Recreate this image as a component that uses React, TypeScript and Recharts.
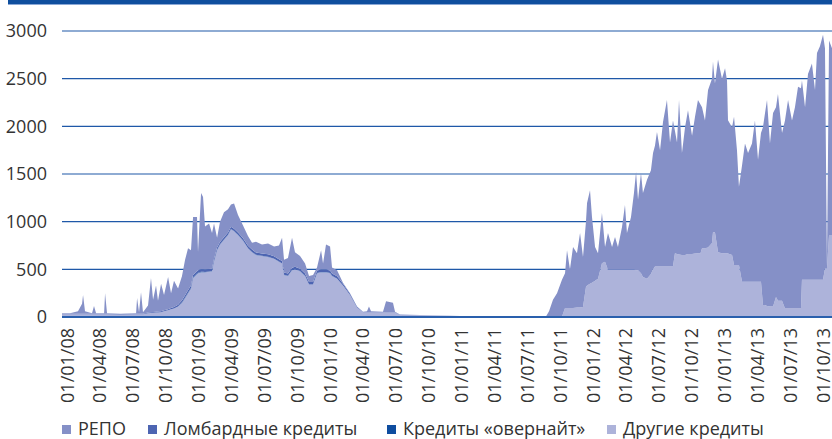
import React from 'react';
import { AreaChart, Area, XAxis, YAxis, CartesianGrid } from 'recharts';

// months since 01/01/08
const months = [
  -0.46, 0.27, 1.0, 1.37, 1.46, 1.64, 2.28, 2.46, 2.65, 3.38,
  3.47, 3.65, 4.84, 6.3, 6.39, 6.57, 6.75, 6.93, 7.39, 7.66,
  7.85, 8.12, 8.3, 8.58, 8.85, 9.22, 9.49, 9.76, 10.13, 10.49,
  10.77, 11.04, 11.31, 11.5, 11.86, 11.95, 12.23, 12.41, 12.59, 12.96,
  13.23, 13.41, 13.69, 13.96, 14.32, 14.69, 14.96, 15.24, 15.6, 16.06,
  16.51, 16.88, 17.24, 17.79, 18.34, 18.89, 19.34, 19.62, 19.8, 20.16,
  20.53, 20.8, 21.26, 21.72, 22.08, 22.45, 22.81, 23.18, 23.36, 23.63,
  24.0, 24.18, 24.64, 25.18, 25.82, 26.46, 27.01, 27.37, 27.55, 27.74,
  28.83, 29.11, 29.74, 29.93, 30.38, 32.21, 34.95, 37.68, 41.33, 43.7,
  43.98, 44.34, 44.71, 45.16, 45.44, 45.62, 45.89, 46.17, 46.53, 46.81,
  47.08, 47.35, 47.45, 47.72, 47.9, 48.18, 48.45, 48.81, 49.09, 49.36,
  49.73, 50.0, 50.27, 50.64, 50.91, 51.09, 51.46, 51.73, 51.92, 52.1,
  52.37, 52.55, 52.92, 53.28, 53.47, 53.65, 53.83, 54.11, 54.38, 54.74,
  55.02, 55.29, 55.47, 55.66, 55.84, 56.11, 56.39, 56.66, 57.03, 57.3,
  57.57, 57.8, 57.94, 58.21, 58.49, 58.85, 58.94, 59.12, 59.4, 59.76,
  60.04, 60.22, 60.31, 60.68, 60.86, 61.13, 61.31, 61.59, 61.86, 62.14,
  62.5, 62.77, 63.05, 63.32, 63.5, 63.69, 63.87, 64.14, 64.42, 64.69,
  64.87, 65.24, 65.51, 65.79, 66.15, 66.42, 66.7, 66.97, 67.06, 67.34,
  67.61, 67.97, 68.25, 68.43, 68.7, 68.98, 69.16, 69.34, 69.53, 69.8,
];

const repo = [
  7, 7, 27, 107, 197, 27, 7, 82, 7, 7,
  217, 7, 4, 7, 167, 17, 227, 17, 72, 360,
  128, 274, 112, 290, 158, 338, 155, 275, 172, 255,
  373, 440, 370, 610, 570, 190, 800, 760, 452, 477,
  372, 372, 102, 212, 263, 243, 233, 263, 183, 133,
  103, 73, 113, 93, 113, 103, 143, 243, 133, 163,
  313, 153, 133, 103, 63, 73, 33, 203, 63, 263,
  253, 63, 63, 10, 5, 2, 2, 7, 57, 7,
  2, 117, 102, 7, 1, 1, 1, 1, 1, 2,
  58, 178, 248, 388, 365, 605, 405, 640, 570, 780,
  525, 685, 865, 980, 690, 355, 270, 525, 155, 385,
  240, 345, 240, 450, 680, 385, 555, 805, 1030, 740,
  1050, 880, 1040, 1090, 1220, 1270, 1410, 1220, 1515, 1745,
  1300, 1530, 1280, 1170, 1620, 1070, 1340, 1510, 1240, 1435,
  1605, 1560, 1480, 1340, 1650, 1725, 1790, 1560, 2020, 1830,
  1940, 1810, 1400, 1340, 1555, 1205, 820, 1220, 1450, 1350,
  1450, 1690, 1280, 1560, 1865, 2015, 2160, 1710, 2030, 1990,
  2170, 1760, 1970, 2185, 1970, 2110, 2325, 2310, 2090, 1810,
  2160, 2270, 1990, 2380, 2450, 2570, 2310, 20, 2040, 1960,
];

const lombard = [
  5, 5, 5, 5, 5, 5, 5, 5, 5, 5,
  5, 5, 5, 5, 5, 5, 5, 5, 8, 8,
  8, 10, 10, 10, 12, 12, 15, 15, 18, 20,
  22, 25, 25, 25, 25, 25, 25, 25, 25, 25,
  25, 25, 25, 25, 25, 25, 25, 25, 25, 25,
  25, 25, 25, 25, 25, 25, 25, 25, 25, 25,
  25, 25, 25, 25, 25, 25, 25, 25, 25, 25,
  25, 25, 25, 20, 15, 8, 3, 3, 3, 3,
  3, 3, 3, 3, 2, 1, 1, 0, 0, 0,
  0, 0, 0, 0, 0, 0, 0, 0, 0, 0,
  0, 0, 0, 0, 0, 0, 0, 0, 0, 0,
  0, 0, 0, 0, 0, 0, 0, 0, 0, 0,
  0, 0, 0, 0, 0, 0, 0, 0, 0, 0,
  0, 0, 0, 0, 0, 0, 0, 0, 0, 0,
  0, 0, 0, 0, 0, 0, 0, 0, 0, 0,
  0, 0, 0, 0, 0, 0, 0, 0, 0, 0,
  0, 0, 0, 0, 0, 0, 0, 0, 0, 0,
  0, 0, 0, 0, 0, 0, 0, 0, 0, 0,
  0, 0, 0, 0, 0, 0, 0, 0, 0, 0,
];

const overnight = [
  0, 0, 0, 0, 0, 0, 0, 0, 0, 0,
  0, 0, 0, 0, 0, 0, 0, 0, 0, 0,
  0, 0, 0, 0, 0, 0, 0, 0, 0, 5,
  5, 5, 5, 5, 5, 5, 5, 5, 3, 3,
  3, 3, 3, 3, 2, 2, 2, 2, 2, 2,
  2, 2, 2, 2, 2, 2, 2, 2, 2, 2,
  2, 2, 2, 2, 2, 2, 2, 2, 2, 2,
  2, 2, 2, 0, 0, 0, 0, 0, 0, 0,
  0, 0, 0, 0, 0, 0, 0, 0, 0, 0,
  0, 0, 0, 0, 0, 0, 0, 0, 0, 0,
  0, 0, 0, 0, 0, 0, 0, 0, 0, 0,
  0, 0, 0, 0, 0, 0, 0, 0, 0, 0,
  0, 0, 0, 0, 0, 0, 0, 0, 0, 0,
  0, 0, 0, 0, 0, 0, 0, 0, 0, 0,
  0, 0, 0, 0, 0, 0, 0, 0, 0, 0,
  0, 0, 0, 0, 0, 0, 0, 0, 0, 0,
  0, 0, 0, 0, 0, 0, 0, 0, 0, 0,
  0, 0, 0, 0, 0, 0, 0, 0, 0, 0,
  0, 0, 0, 0, 0, 0, 0, 0, 0, 0,
];

const other = [
  28, 28, 28, 28, 28, 28, 28, 28, 28, 28,
  28, 28, 26, 28, 28, 28, 28, 28, 40, 42,
  44, 46, 48, 50, 60, 70, 80, 90, 110, 150,
  200, 250, 300, 410, 450, 460, 470, 470, 470, 475,
  480, 580, 700, 760, 810, 860, 920, 900, 860, 800,
  720, 680, 650, 640, 630, 610, 580, 560, 440, 430,
  490, 500, 480, 430, 340, 340, 460, 470, 470, 470,
  460, 430, 400, 330, 230, 100, 50, 50, 50, 50,
  50, 45, 45, 45, 22, 18, 10, 5, 4, 3,
  2, 2, 2, 2, 95, 95, 95, 95, 100, 100,
  105, 315, 330, 350, 360, 380, 400, 565, 580, 495,
  495, 495, 495, 495, 495, 495, 495, 495, 490, 490,
  460, 420, 400, 450, 500, 530, 530, 530, 530, 530,
  530, 530, 670, 660, 655, 650, 650, 660, 660, 665,
  670, 670, 720, 720, 730, 775, 890, 890, 680, 670,
  670, 670, 665, 650, 545, 545, 545, 370, 370, 370,
  370, 370, 370, 370, 125, 125, 115, 110, 110, 210,
  170, 170, 90, 90, 90, 90, 90, 90, 390, 390,
  390, 390, 390, 390, 390, 390, 510, 510, 860, 860,
];

const tickMonths = [0, 3, 6, 9, 12, 15, 18, 21, 24, 27, 30, 33, 36, 39, 42, 45, 48, 51, 54, 57, 60, 63, 66, 69];
const tickLabels = [
  '01/01/08', '01/04/08', '01/07/08', '01/10/08',
  '01/01/09', '01/04/09', '01/07/09', '01/10/09',
  '01/01/10', '01/04/10', '01/07/10', '01/10/10',
  '01/01/11', '01/04/11', '01/07/11', '01/10/11',
  '01/01/12', '01/04/12', '01/07/12', '01/10/12',
  '01/01/13', '01/04/13', '01/07/13', '01/10/13',
];
const yTicks = [0, 500, 1000, 1500, 2000, 2500, 3000];

const data = months.map((t, i) => ({
  t,
  repo: repo[i],
  lombard: lombard[i],
  overnight: overnight[i],
  other: other[i],
}));

const FONT = '"Open Sans", "DejaVu Sans", sans-serif';

const legendItems = [
  { name: 'РЕПО', color: '#8590c7', left: 62 },
  { name: 'Ломбардные кредиты', color: '#4d65b2', left: 148 },
  { name: 'Кредиты «овернайт»', color: '#0e4d9f', left: 387 },
  { name: 'Другие кредиты', color: '#adb3da', left: 607 },
];

const XTick = (props: any) => {
  const { x, y, payload } = props;
  const idx = tickMonths.indexOf(payload.value);
  return (
    <text
      x={x}
      y={y}
      dx={-11}
      dy="0.36em"
      textAnchor="end"
      transform={`rotate(-90, ${x}, ${y})`}
      fill="#333"
      fontSize={18}
      fontFamily={FONT}
    >
      {tickLabels[idx]}
    </text>
  );
};

const App: React.FC = () => {
  return (
    <div style={{ position: 'absolute', left: 0, top: 0, width: 832, height: 439, fontFamily: FONT, background: '#fff' }}>
      <AreaChart
        width={832}
        height={439}
        data={data}
        margin={{ top: 31, right: 0, left: 0, bottom: 28 }}
      >
        <CartesianGrid vertical={false} stroke="#1f58a8" strokeWidth={1.2} />
        <XAxis
          dataKey="t"
          type="number"
          domain={[-0.46, 69.8]}
          ticks={tickMonths}
          interval={0}
          tick={<XTick />}
          tickLine={false}
          tickSize={0}
          tickMargin={0}
          height={94}
          axisLine={{ stroke: '#2a60ad', strokeWidth: 2 }}
          allowDataOverflow
        />
        <YAxis
          width={62}
          domain={[0, 3000]}
          ticks={yTicks}
          axisLine={false}
          tickLine={false}
          tickSize={0}
          tickMargin={15}
          tick={{ fill: '#333', fontSize: 18, fontFamily: FONT }}
        />
        <Area type="linear" dataKey="other" stackId="1" stroke="none" fill="#adb3da" fillOpacity={1} isAnimationActive={false} dot={false} activeDot={false} />
        <Area type="linear" dataKey="overnight" stackId="1" stroke="none" fill="#0e4d9f" fillOpacity={1} isAnimationActive={false} dot={false} activeDot={false} />
        <Area type="linear" dataKey="lombard" stackId="1" stroke="none" fill="#4d65b2" fillOpacity={1} isAnimationActive={false} dot={false} activeDot={false} />
        <Area type="linear" dataKey="repo" stackId="1" stroke="none" fill="#8590c7" fillOpacity={1} isAnimationActive={false} dot={false} activeDot={false} />
      </AreaChart>

      {/* top banner */}
      <div style={{ position: 'absolute', left: 8, top: 0, width: 824, height: 4, background: '#0f4f9e', borderBottom: '1px solid #8aa8d6', zIndex: 2 }} />

      {/* legend */}
      {legendItems.map((it) => (
        <div key={it.name} style={{ position: 'absolute', left: it.left, top: 416, display: 'flex', alignItems: 'center', fontSize: 18, color: '#333', whiteSpace: 'nowrap', lineHeight: '24px', zIndex: 2 }}>
          <span style={{ display: 'inline-block', width: 9, height: 9, background: it.color, marginRight: 7, marginTop: 2 }} />
          {it.name}
        </div>
      ))}
    </div>
  );
};

export default App;
